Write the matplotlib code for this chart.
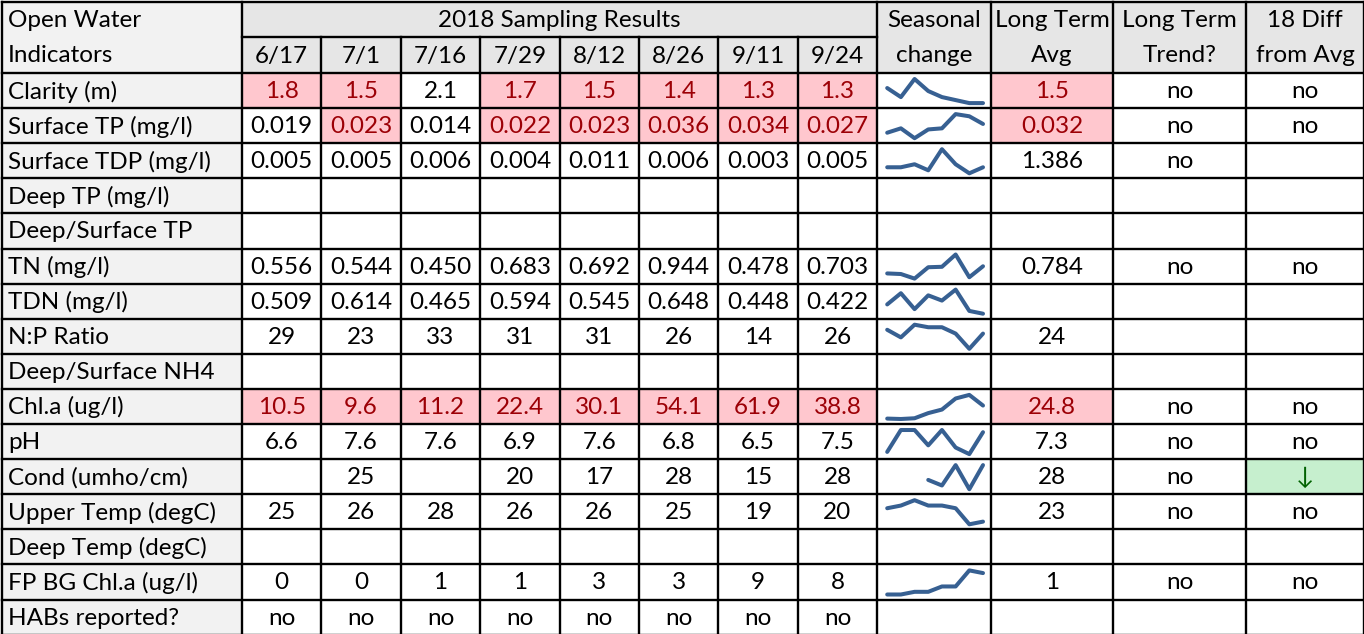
import numpy as np
import matplotlib
matplotlib.use('Agg')
import matplotlib.pyplot as plt
from matplotlib.patches import Rectangle

plt.rcParams['font.family'] = ['Lato', 'DejaVu Sans']

# ---- data ----
dates = ['6/17', '7/1', '7/16', '7/29', '8/12', '8/26', '9/11', '9/24']
indicators = ['Clarity (m)', 'Surface TP (mg/l)', 'Surface TDP (mg/l)', 'Deep TP (mg/l)',
              'Deep/Surface TP', 'TN (mg/l)', 'TDN (mg/l)', 'N:P Ratio',
              'Deep/Surface NH4', 'Chl.a (ug/l)', 'pH', 'Cond (umho/cm)',
              'Upper Temp (degC)', 'Deep Temp (degC)', 'FP BG Chl.a (ug/l)', 'HABs reported?']
results = [
    ['1.8', '1.5', '2.1', '1.7', '1.5', '1.4', '1.3', '1.3'],
    ['0.019', '0.023', '0.014', '0.022', '0.023', '0.036', '0.034', '0.027'],
    ['0.005', '0.005', '0.006', '0.004', '0.011', '0.006', '0.003', '0.005'],
    [''] * 8,
    [''] * 8,
    ['0.556', '0.544', '0.450', '0.683', '0.692', '0.944', '0.478', '0.703'],
    ['0.509', '0.614', '0.465', '0.594', '0.545', '0.648', '0.448', '0.422'],
    ['29', '23', '33', '31', '31', '26', '14', '26'],
    [''] * 8,
    ['10.5', '9.6', '11.2', '22.4', '30.1', '54.1', '61.9', '38.8'],
    ['6.6', '7.6', '7.6', '6.9', '7.6', '6.8', '6.5', '7.5'],
    ['', '25', '', '20', '17', '28', '15', '28'],
    ['25', '26', '28', '26', '26', '25', '19', '20'],
    [''] * 8,
    ['0', '0', '1', '1', '3', '3', '9', '8'],
    ['no'] * 8,
]
long_term_avg = ['1.5', '0.032', '1.386', '', '', '0.784', '', '24', '', '24.8',
                 '7.3', '28', '23', '', '1', '']
long_term_trend = ['no', 'no', 'no', '', '', 'no', '', '', '', 'no',
                   'no', 'no', 'no', '', 'no', '']
diff_from_avg = ['no', 'no', '', '', '', 'no', '', '', '', 'no',
                 'no', '\u2193', 'no', '', 'no', '']

# cells flagged red: (row, column index in dates)
red_cells = [(0, 0), (0, 1), (0, 3), (0, 4), (0, 5), (0, 6), (0, 7),
             (1, 1), (1, 3), (1, 4), (1, 5), (1, 6), (1, 7),
             (9, 0), (9, 1), (9, 2), (9, 3), (9, 4), (9, 5), (9, 6), (9, 7)]
red_avg_rows = [0, 1, 9]
green_diff_rows = [11]

# ---- layout (pixels) ----
W, H = 1364, 634
col_edges = [2, 242] + [242 + 79.4 * (i + 1) for i in range(8)] + [991, 1113, 1246, 1364]
row_edges = [2, 37, 73] + [73 + 35.1 * (i + 1) for i in range(16)]

HEAD_BG = '#e6e6e6'
LABEL_BG = '#f2f2f2'
RED_BG, RED_FG = '#ffc7ce', '#9c0006'
GREEN_BG, GREEN_FG = '#c6efce', '#006100'
SPARK = '#376092'
FS = 17.5
LW = 1.7

fig = plt.figure(figsize=(W / 100, H / 100), dpi=100)
ax = fig.add_axes([0, 0, 1, 1])
ax.set_xlim(0, W)
ax.set_ylim(H, 0)
ax.axis('off')


def cell(c0, c1, r0, r1, color):
    x0, x1 = col_edges[c0], col_edges[c1]
    y0, y1 = row_edges[r0], row_edges[r1]
    ax.add_patch(Rectangle((x0, y0), x1 - x0, y1 - y0, fc=color, ec='none', zorder=0))


def text(c0, c1, r, s, color='black', ha='center'):
    x0, x1 = col_edges[c0], col_edges[c1]
    y = (row_edges[r] + row_edges[r + 1]) / 2
    x = (x0 + x1) / 2 if ha == 'center' else x0 + 6
    ax.text(x, y + 1, s, ha=ha, va='center', fontsize=FS, color=color, zorder=3)


def hline(y, x0, x1):
    ax.plot([x0, x1], [y, y], color='black', lw=LW, zorder=4, solid_capstyle='projecting')


def vline(x, y0, y1):
    ax.plot([x, x], [y0, y1], color='black', lw=LW, zorder=4, solid_capstyle='projecting')


# header backgrounds
cell(0, 1, 0, 2, LABEL_BG)
cell(1, 13, 0, 2, HEAD_BG)
# label column
cell(0, 1, 2, 18, LABEL_BG)
for r, c in red_cells:
    cell(c + 1, c + 2, r + 2, r + 3, RED_BG)
for r in red_avg_rows:
    cell(10, 11, r + 2, r + 3, RED_BG)
for r in green_diff_rows:
    cell(12, 13, r + 2, r + 3, GREEN_BG)

# header text
text(0, 1, 0, 'Open Water', ha='left')
text(0, 1, 1, 'Indicators', ha='left')
text(1, 9, 0, '2018 Sampling Results')
for i, d in enumerate(dates):
    text(i + 1, i + 2, 1, d)
for c, (a, b) in zip([9, 10, 11, 12], [('Seasonal', 'change'), ('Long Term', 'Avg'),
                                        ('Long Term', 'Trend?'), ('18 Diff', 'from Avg')]):
    text(c, c + 1, 0, a)
    text(c, c + 1, 1, b)

# body text
for r, name in enumerate(indicators):
    rr = r + 2
    text(0, 1, rr, name, ha='left')
    for c, v in enumerate(results[r]):
        col = RED_FG if (r, c) in red_cells else 'black'
        text(c + 1, c + 2, rr, v, color=col)
    text(10, 11, rr, long_term_avg[r], color=RED_FG if r in red_avg_rows else 'black')
    text(11, 12, rr, long_term_trend[r])
    text(12, 13, rr, diff_from_avg[r], color=GREEN_FG if r in green_diff_rows else 'black')

# grid lines (merged header cells respected)
hline(row_edges[0], col_edges[0], col_edges[-1])
hline(row_edges[1], col_edges[1], col_edges[9])
for y in row_edges[2:]:
    hline(y, col_edges[0], col_edges[-1])
for i, x in enumerate(col_edges):
    if 2 <= i <= 8:
        vline(x, row_edges[1], row_edges[-1])
    else:
        vline(x, row_edges[0], row_edges[-1])

# sparklines
for r in range(len(indicators)):
    vals = [float(v) if v not in ('', 'no') else np.nan for v in results[r]]
    if np.all(np.isnan(vals)):
        continue
    x0, x1 = col_edges[9] + 10, col_edges[10] - 8
    y0, y1 = row_edges[r + 2] + 6, row_edges[r + 3] - 5
    sax = fig.add_axes([x0 / W, 1 - y1 / H, (x1 - x0) / W, (y1 - y0) / H])
    sax.plot(range(len(vals)), vals, color=SPARK, lw=2.9,
             solid_capstyle='round', solid_joinstyle='round', clip_on=False)
    sax.set_xlim(0, len(vals) - 1)
    sax.margins(y=0)
    sax.axis('off')

fig.savefig('out.png', dpi=100)
